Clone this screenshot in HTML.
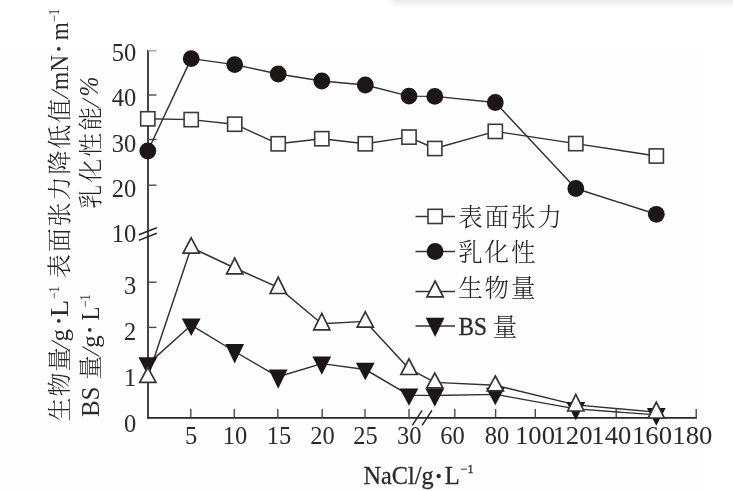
<!DOCTYPE html>
<html lang="zh"><head><meta charset="utf-8"><title>NaCl chart</title>
<style>
html,body{margin:0;padding:0;background:#fff;}
body{width:733px;height:491px;overflow:hidden;}
svg{display:block;}
text{font-family:"Liberation Serif","Noto Serif CJK SC",serif;fill:#2b2b2b;}
.cj{font-family:"Noto Serif CJK SC","Liberation Serif",serif;font-weight:300;fill:#242424;}
</style></head><body>
<svg width="733" height="491" viewBox="0 0 733 491">
<defs>
<filter id="shb" x="-5%" y="-100%" width="110%" height="300%"><feGaussianBlur stdDeviation="3"/></filter>
<filter id="soft" x="-5%" y="-5%" width="110%" height="110%"><feGaussianBlur stdDeviation="0.65"/></filter>
</defs>
<rect width="733" height="491" fill="#ffffff"/>
<rect x="0" y="48" width="703" height="443" fill="#fefefe"/>
<rect x="392" y="-9" width="350" height="12.5" rx="4" fill="#e7e7e7" filter="url(#shb)"/>
<g filter="url(#soft)">

<g stroke="#262626" stroke-width="1.7" fill="none" stroke-linecap="butt">
<path d="M148 50 V418.6"/>
<path d="M147.2 417.8 H697"/>
<path d="M148 50.8 H156.5" stroke="#9a9a9a" stroke-width="1.3"/>
<path d="M148 95 H156.5" stroke="#4a4a4a" stroke-width="1.4"/>
<path d="M148 139.5 H156.5" stroke="#4a4a4a" stroke-width="1.4"/>
<path d="M148 185.2 H156.5" stroke="#4a4a4a" stroke-width="1.4"/>
<path d="M148 282.2 H156.5" stroke="#4a4a4a" stroke-width="1.4"/>
<path d="M148 327.4 H156.5" stroke="#4a4a4a" stroke-width="1.4"/>
<path d="M190.8 417.8 V409" stroke="#4a4a4a" stroke-width="1.4"/>
<path d="M234.3 417.8 V409" stroke="#4a4a4a" stroke-width="1.4"/>
<path d="M277.8 417.8 V409" stroke="#4a4a4a" stroke-width="1.4"/>
<path d="M322.2 417.8 V409" stroke="#4a4a4a" stroke-width="1.4"/>
<path d="M365 417.8 V409" stroke="#4a4a4a" stroke-width="1.4"/>
<path d="M409 417.8 V409" stroke="#4a4a4a" stroke-width="1.4"/>
<path d="M454.8 417.8 V409" stroke="#4a4a4a" stroke-width="1.4"/>
<path d="M495.6 417.8 V409" stroke="#4a4a4a" stroke-width="1.4"/>
<path d="M535.3 417.8 V409" stroke="#4a4a4a" stroke-width="1.4"/>
<path d="M575.6 417.8 V409" stroke="#4a4a4a" stroke-width="1.4"/>
<path d="M616.2 417.8 V409" stroke="#4a4a4a" stroke-width="1.4"/>
<path d="M656.3 417.8 V409" stroke="#4a4a4a" stroke-width="1.4"/>
<path d="M696.2 417.8 V409" stroke="#4a4a4a" stroke-width="1.4"/>
<path d="M138.8 234.8 L156.8 227.8 M138.8 240.4 L156.8 233.2" stroke-width="1.5"/>
<path d="M412.3 425.4 L422.1 410.4 M422.1 425.4 L431.9 410.4" stroke-width="1.5"/>
</g>
<g stroke="#303030" stroke-width="1.45" fill="none" stroke-linejoin="round">
<polyline points="147.8,151.0 191.2,58.6 234.7,64.6 278.2,74.0 321.8,81.0 365.3,85.0 409.0,96.1 434.8,96.4 495.3,102.5 575.8,188.5 656.3,214.3"/>
<polyline points="147.8,118.8 191.2,119.6 234.7,124.2 278.2,143.8 321.8,138.7 365.3,143.8 409.0,137.1 434.8,148.5 495.3,131.4 575.8,143.6 656.3,156.0"/>
<polyline points="147.8,376.8 191.2,247.5 234.7,268.0 278.2,287.4 321.8,323.8 365.3,321.4 409.0,368.7 434.8,382.4 495.3,385.3 575.8,404.9 656.3,412.1"/>
<polyline points="147.8,364.1 191.2,325.2 234.7,351.5 278.2,376.8 321.8,363.6 365.3,369.5 409.0,395.1 434.8,395.5 495.3,394.4 575.8,408.9 656.3,414.9"/>
<path d="M415.5 216.4 H455 M415.5 251.5 H455 M415.5 291.5 H455 M415.5 326 H455"/>
</g>
<g>
<circle cx="147.8" cy="151" r="8.4" fill="#1b1717"/>
<circle cx="191.2" cy="58.6" r="8.4" fill="#1b1717"/>
<circle cx="234.7" cy="64.6" r="8.4" fill="#1b1717"/>
<circle cx="278.2" cy="74" r="8.4" fill="#1b1717"/>
<circle cx="321.8" cy="81" r="8.4" fill="#1b1717"/>
<circle cx="365.3" cy="85" r="8.4" fill="#1b1717"/>
<circle cx="409.0" cy="96.1" r="8.4" fill="#1b1717"/>
<circle cx="434.8" cy="96.4" r="8.4" fill="#1b1717"/>
<circle cx="495.3" cy="102.5" r="8.4" fill="#1b1717"/>
<circle cx="575.8" cy="188.5" r="8.4" fill="#1b1717"/>
<circle cx="656.3" cy="214.3" r="8.4" fill="#1b1717"/>
<rect x="140.7" y="111.7" width="14.2" height="14.2" fill="#ffffff" stroke="#3a3a3a" stroke-width="1.6"/>
<rect x="184.1" y="112.5" width="14.2" height="14.2" fill="#ffffff" stroke="#3a3a3a" stroke-width="1.6"/>
<rect x="227.6" y="117.1" width="14.2" height="14.2" fill="#ffffff" stroke="#3a3a3a" stroke-width="1.6"/>
<rect x="271.1" y="136.7" width="14.2" height="14.2" fill="#ffffff" stroke="#3a3a3a" stroke-width="1.6"/>
<rect x="314.7" y="131.6" width="14.2" height="14.2" fill="#ffffff" stroke="#3a3a3a" stroke-width="1.6"/>
<rect x="358.2" y="136.7" width="14.2" height="14.2" fill="#ffffff" stroke="#3a3a3a" stroke-width="1.6"/>
<rect x="401.9" y="130.0" width="14.2" height="14.2" fill="#ffffff" stroke="#3a3a3a" stroke-width="1.6"/>
<rect x="427.7" y="141.4" width="14.2" height="14.2" fill="#ffffff" stroke="#3a3a3a" stroke-width="1.6"/>
<rect x="488.2" y="124.3" width="14.2" height="14.2" fill="#ffffff" stroke="#3a3a3a" stroke-width="1.6"/>
<rect x="568.7" y="136.5" width="14.2" height="14.2" fill="#ffffff" stroke="#3a3a3a" stroke-width="1.6"/>
<rect x="649.2" y="148.9" width="14.2" height="14.2" fill="#ffffff" stroke="#3a3a3a" stroke-width="1.6"/>
<polygon points="138.4,357.2 157.2,357.2 147.8,375.2" fill="#1b1717"/>
<polygon points="181.8,318.5 200.6,318.5 191.2,336.1" fill="#1b1717"/>
<polygon points="225.3,344.1 244.1,344.1 234.7,363.4" fill="#1b1717"/>
<polygon points="268.8,369.4 287.6,369.4 278.2,388.7" fill="#1b1717"/>
<polygon points="312.4,356.6 331.2,356.6 321.8,374.8" fill="#1b1717"/>
<polygon points="355.9,362.8 374.7,362.8 365.3,380.2" fill="#1b1717"/>
<polygon points="399.6,388.5 418.4,388.5 409.0,405.7" fill="#1b1717"/>
<polygon points="425.4,388.5 444.2,388.5 434.8,406.7" fill="#1b1717"/>
<polygon points="485.9,387.7 504.7,387.7 495.3,405.2" fill="#1b1717"/>
<polygon points="566.4,401.9 585.2,401.9 575.8,420.2" fill="#1b1717"/>
<polygon points="646.9,408.1 665.7,408.1 656.3,425.8" fill="#1b1717"/>
<polygon points="147.8,367.4 155.9,382.3 139.7,382.3" fill="#ffffff" stroke="#333333" stroke-width="1.7" stroke-linejoin="miter"/>
<polygon points="191.2,237.9 199.3,253.2 183.1,253.2" fill="#ffffff" stroke="#333333" stroke-width="1.7" stroke-linejoin="miter"/>
<polygon points="234.7,258.1 242.8,273.8 226.6,273.8" fill="#ffffff" stroke="#333333" stroke-width="1.7" stroke-linejoin="miter"/>
<polygon points="278.2,277.1 286.3,293.5 270.1,293.5" fill="#ffffff" stroke="#333333" stroke-width="1.7" stroke-linejoin="miter"/>
<polygon points="321.8,313.4 329.9,329.9 313.7,329.9" fill="#ffffff" stroke="#333333" stroke-width="1.7" stroke-linejoin="miter"/>
<polygon points="365.3,311.8 373.4,327.1 357.2,327.1" fill="#ffffff" stroke="#333333" stroke-width="1.7" stroke-linejoin="miter"/>
<polygon points="409.0,358.9 417.1,374.5 400.9,374.5" fill="#ffffff" stroke="#333333" stroke-width="1.7" stroke-linejoin="miter"/>
<polygon points="434.8,373.1 442.9,387.9 426.7,387.9" fill="#ffffff" stroke="#333333" stroke-width="1.7" stroke-linejoin="miter"/>
<polygon points="495.3,376.0 503.4,390.8 487.2,390.8" fill="#ffffff" stroke="#333333" stroke-width="1.7" stroke-linejoin="miter"/>
<polygon points="575.8,394.4 583.9,411.0 567.7,411.0" fill="#ffffff" stroke="#333333" stroke-width="1.7" stroke-linejoin="miter"/>
<polygon points="656.3,402.1 664.4,418.0 648.2,418.0" fill="#ffffff" stroke="#333333" stroke-width="1.7" stroke-linejoin="miter"/>
<rect x="428" y="209.3" width="14.2" height="14.2" fill="#ffffff" stroke="#3a3a3a" stroke-width="1.6"/>
<circle cx="435.1" cy="251.5" r="8.4" fill="#1b1717"/>
<polygon points="435.1,281 443.2,296.8 427,296.8" fill="#ffffff" stroke="#333333" stroke-width="1.7"/>
<polygon points="425.7,317.8 444.5,317.8 435.1,337" fill="#1b1717"/>
</g>
<g font-size="24.5" text-anchor="end">
<text x="136.2" y="61">50</text>
<text x="136.2" y="105.6">40</text>
<text x="136.2" y="151.6">30</text>
<text x="136.2" y="197.4">20</text>
<text x="136.2" y="242.2">10</text>
<text x="136.2" y="293.6">3</text>
<text x="136.2" y="339.6">2</text>
<text x="136.2" y="386">1</text>
<text x="136.2" y="432.2">0</text>
</g>
<g font-size="24.5" text-anchor="middle">
<text x="191" y="444">5</text>
<text x="235" y="444">10</text>
<text x="279" y="444">15</text>
<text x="322.5" y="444">20</text>
<text x="365.5" y="444">25</text>
<text x="409.3" y="444">30</text>
<text x="452.5" y="444">60</text>
<text x="497" y="444">80</text>
<text x="535" y="444" textLength="40" lengthAdjust="spacingAndGlyphs">100</text>
<text x="572.5" y="444" textLength="40" lengthAdjust="spacingAndGlyphs">120</text>
<text x="611.3" y="444" textLength="40" lengthAdjust="spacingAndGlyphs">140</text>
<text x="652" y="444" textLength="40" lengthAdjust="spacingAndGlyphs">160</text>
<text x="692.3" y="444" textLength="40" lengthAdjust="spacingAndGlyphs">180</text>
</g>
<text x="363.5" y="484" font-size="24.5" stroke="#2b2b2b" stroke-width="0.3"><tspan textLength="70" lengthAdjust="spacingAndGlyphs">NaCl/g</tspan><tspan dx="2.2" font-size="17" dy="-2">•</tspan><tspan dy="2" dx="3.2">L</tspan><tspan font-size="12" dy="-11" dx="1">−1</tspan></text>
<g>
<text class="cj" font-size="24.5" x="458.3" y="226.2" letter-spacing="1.8">表面张力</text>
<text class="cj" font-size="24.5" x="458.3" y="260.8" letter-spacing="1.8">乳化性</text>
<text class="cj" font-size="24.5" x="458.3" y="296.8" letter-spacing="1.8">生物量</text>
<text x="458.5" y="335.2" font-size="24.5" textLength="28.5" lengthAdjust="spacingAndGlyphs" stroke="#2b2b2b" stroke-width="0.35">BS</text>
<text class="cj" font-size="24.5" x="492.8" y="335.6">量</text>
</g>
<text class="cj" transform="translate(67.6,421.6) rotate(-90)" font-size="24" letter-spacing="1.1">生物量</text>
<text transform="translate(67.6,350.6) rotate(-90) skewX(-14)" font-size="25">/</text>
<text transform="translate(67.6,341.4) rotate(-90)" font-size="25" >g</text>
<text transform="translate(63.5,323.5) rotate(-90)" font-size="15" >•</text>
<text transform="translate(67.6,317.2) rotate(-90)" font-size="25" textLength="17.5" lengthAdjust="spacingAndGlyphs">L</text>
<text transform="translate(58.5,299.3) rotate(-90)" font-size="15" textLength="13" lengthAdjust="spacingAndGlyphs">−1</text>
<text class="cj" transform="translate(67.6,278.2) rotate(-90)" font-size="24" letter-spacing="1.9">表面张力降低值</text>
<text transform="translate(67.6,99.6) rotate(-90) skewX(-14)" font-size="25">/</text>
<text transform="translate(67.6,90) rotate(-90)" font-size="25" textLength="35" lengthAdjust="spacingAndGlyphs">mN</text>
<text transform="translate(63.5,51.5) rotate(-90)" font-size="15" >•</text>
<text transform="translate(67.6,40.2) rotate(-90)" font-size="25" textLength="18" lengthAdjust="spacingAndGlyphs">m</text>
<text transform="translate(58.5,22) rotate(-90)" font-size="15" textLength="13" lengthAdjust="spacingAndGlyphs">−1</text>
<text transform="translate(98.6,417) rotate(-90)" font-size="25" textLength="30.5" lengthAdjust="spacingAndGlyphs">BS</text>
<text class="cj" transform="translate(98.6,379.4) rotate(-90)" font-size="24" >量</text>
<text transform="translate(98.6,357) rotate(-90) skewX(-14)" font-size="25">/</text>
<text transform="translate(98.6,347.8) rotate(-90)" font-size="25" >g</text>
<text transform="translate(94.5,332.5) rotate(-90)" font-size="15" >•</text>
<text transform="translate(98.6,320.4) rotate(-90)" font-size="25" textLength="14" lengthAdjust="spacingAndGlyphs">L</text>
<text transform="translate(89.5,307.5) rotate(-90)" font-size="15" textLength="13" lengthAdjust="spacingAndGlyphs">−1</text>
<text class="cj" transform="translate(98.6,208.8) rotate(-90)" font-size="24" letter-spacing="2">乳化性能</text>
<text transform="translate(98.6,108.6) rotate(-90) skewX(-14)" font-size="25">/</text>
<text transform="translate(98,96.4) rotate(-90)" font-size="27" font-style="italic" textLength="20" lengthAdjust="spacingAndGlyphs">%</text>
</g></svg></body></html>
